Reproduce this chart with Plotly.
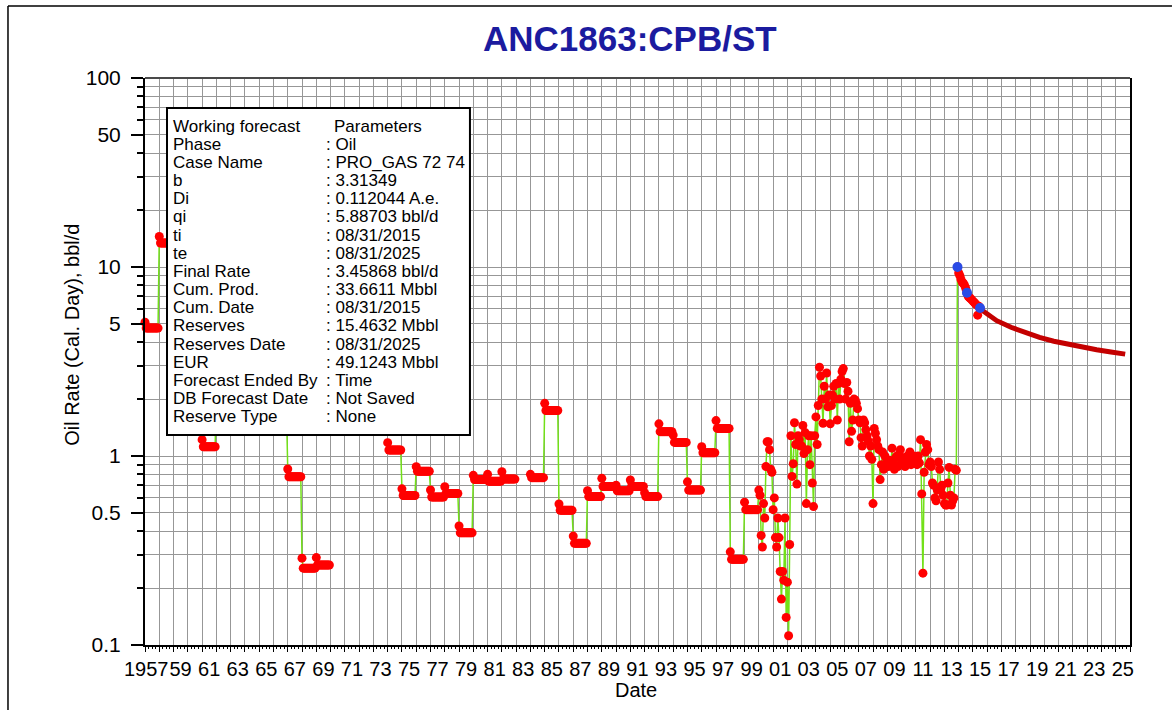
import plotly.graph_objects as go

# ---------------------------------------------------------------------------
# Production history, oil rate on calendar-day basis (bbl/d)
# Annual allocations: each year is plotted as 12 monthly points; the first
# month of the year carries a slightly higher rate than the remaining months.
# ---------------------------------------------------------------------------
early_years = [1957, 1958, 1959, 1960, 1961, 1962, 1963, 1964, 1965, 1966, 1967, 1968, 1969]
early_first = [5.10, 14.5, 7.40, 3.20, 1.22, 2.30, 2.10, 2.00, 1.90, 1.80, 0.853, 0.288, 0.290]
early_level = [4.75, 13.4, 7.00, 3.00, 1.12, 2.20, 2.00, 1.90, 1.80, 1.70, 0.777, 0.255, 0.265]

mid_years = [1974, 1975, 1976, 1977, 1978, 1979, 1980, 1981, 1982]
mid_first = [1.176, 0.670, 0.878, 0.661, 0.688, 0.426, 0.790, 0.800, 0.825]
mid_level = [1.076, 0.618, 0.830, 0.607, 0.633, 0.392, 0.750, 0.735, 0.755]

late_years = [1984, 1985, 1986, 1987, 1988, 1989, 1990, 1991,
              1992, 1993, 1994, 1995, 1996, 1997, 1998, 1999]
late_first = [0.800, 1.90, 0.557, 0.377, 0.655, 0.762, 0.700, 0.746,
              0.640, 1.48, 1.29, 0.730, 1.12, 1.54, 0.311, 0.570]
late_level = [0.768, 1.74, 0.516, 0.345, 0.610, 0.690, 0.655, 0.690,
              0.610, 1.345, 1.18, 0.660, 1.04, 1.40, 0.284, 0.520]

# Monthly rates, Jan..Dec
m2000 = [0.66, 0.62, 0.38, 0.33, 0.56, 0.47, 0.88, 1.19, 1.19, 1.08, 0.85, 0.82]
m2001 = [0.52, 0.60, 0.37, 0.33, 0.47, 0.37, 0.245, 0.175, 0.245, 0.22, 0.47, 0.14]
m2002 = [0.215, 0.112, 0.34, 1.28, 0.78, 0.91, 1.50, 1.15, 0.71, 1.28, 1.22, 1.13]
m2003 = [1.13, 1.45, 1.03, 1.33, 0.56, 1.08, 1.28, 0.90, 1.28, 0.72, 0.54, 1.28]
m2004 = [1.61, 1.15, 1.85, 2.95, 2.65, 2.00, 1.49, 2.34, 2.00, 2.75, 1.82, 2.10]
m2005 = [1.48, 1.85, 2.10, 2.34, 2.00, 2.42, 1.55, 2.42, 2.00, 2.55, 2.80, 2.90]
m2006 = [2.42, 2.00, 2.45, 2.20, 1.19, 1.90, 1.35, 1.55, 2.00, 1.98, 1.90, 1.78]
m2007 = [1.55, 1.50, 1.25, 1.13, 1.55, 1.50, 1.38, 1.28, 1.20, 1.00, 1.13, 0.96]
m2008 = [0.56, 1.40, 1.32, 1.22, 1.13, 1.08, 0.75, 0.90, 1.05, 0.85, 1.00, 0.90]
m2009 = [0.95, 0.88, 0.95, 0.90, 1.10, 0.92, 0.85, 0.98, 1.00, 0.88, 1.02, 1.08]
m2010 = [0.93, 0.98, 0.95, 0.88, 0.90, 1.00, 0.95, 1.05, 0.90, 0.92, 1.00, 0.95]
m2011 = [0.95, 0.90, 1.00, 0.92, 1.22, 0.63, 0.24, 0.82, 1.05, 1.15, 1.08, 0.90]
m2012 = [0.93, 0.88, 0.72, 0.70, 0.60, 0.58, 0.66, 0.93, 0.85, 0.67, 0.70, 0.62]
m2013 = [0.56, 0.55, 0.55, 0.72, 0.87, 0.62, 0.55, 0.58, 0.60, 0.85, 0.84]  # Jan..Nov
monthly_years = [2000, 2001, 2002, 2003, 2004, 2005, 2006, 2007,
                 2008, 2009, 2010, 2011, 2012, 2013]
monthly_rates = [m2000, m2001, m2002, m2003, m2004, m2005, m2006, m2007,
                 m2008, m2009, m2010, m2011, m2012, m2013]

# Recompletion response, Dec 2013 .. Jul 2015
recent_dates = ["2013-12-01", "2014-01-01", "2014-02-01", "2014-03-01", "2014-04-01",
                "2014-05-01", "2014-06-01", "2014-07-01", "2014-08-01", "2014-09-01",
                "2014-10-01", "2014-11-01", "2014-12-01", "2015-01-01", "2015-02-01",
                "2015-03-01", "2015-04-01", "2015-05-01", "2015-06-01", "2015-07-01"]
recent_rates = [10.0, 9.3, 9.0, 8.6, 8.3, 8.2, 8.0, 7.7, 7.3, 7.0,
                6.9, 6.8, 6.7, 6.6, 6.5, 6.4, 6.3, 5.56, 6.2, 6.07]

# Points picked for the decline fit
fit_dates = ["2013-12-01", "2014-08-01", "2015-07-01"]
fit_rates = [10.0, 7.3, 6.07]

# Working forecast (hyperbolic), rates at yearly anniversaries of ti
fc_dates = ["2015-08-31", "2016-08-31", "2017-08-31", "2018-08-31", "2019-08-31", "2020-08-31",
            "2021-08-31", "2022-08-31", "2023-08-31", "2024-08-31", "2025-08-31"]
fc_rates = [5.88703, 5.20, 4.80, 4.48, 4.24, 4.05, 3.90, 3.77, 3.65, 3.55, 3.45868]

# Axis ticks
y_tickvals = [0.1, 0.5, 1, 5, 10, 50, 100]
y_ticktext = ["0.1", "0.5", "1", "5", "10", "50", "100"]
label_years = list(range(1957, 2026, 2))
x_ticktext = ["1957"] + ["%02d" % (y % 100) for y in label_years[1:]]
# label anchors sit mid-year; the four-digit first label is nudged left
x_label_pos = ["1957-02-01"] + ["%d-07-01" % y for y in label_years[1:]]

# Parameter box contents
param_rows = [
    ("Working forecast", "Parameters"),
    ("Phase", ": Oil"),
    ("Case Name", ": PRO_GAS 72 74"),
    ("b", ": 3.31349"),
    ("Di", ": 0.112044 A.e."),
    ("qi", ": 5.88703 bbl/d"),
    ("ti", ": 08/31/2015"),
    ("te", ": 08/31/2025"),
    ("Final Rate", ": 3.45868 bbl/d"),
    ("Cum. Prod.", ": 33.6611 Mbbl"),
    ("Cum. Date", ": 08/31/2015"),
    ("Reserves", ": 15.4632 Mbbl"),
    ("Reserves Date", ": 08/31/2025"),
    ("EUR", ": 49.1243 Mbbl"),
    ("Forecast Ended By", ": Time"),
    ("DB Forecast Date", ": Not Saved"),
    ("Reserve Type", ": None"),
]


# ---------------------------------------------------------------------------
def expand_annual(years, first, level):
    xs, ys = [], []
    for yr, f, lv in zip(years, first, level):
        for m in range(1, 13):
            xs.append("%d-%02d-01" % (yr, m))
            ys.append(f if m == 1 else lv)
    return xs, ys


hist_x, hist_y = [], []
for block in [(early_years, early_first, early_level),
              (mid_years, mid_first, mid_level)]:
    bx, by = expand_annual(*block)
    hist_x += bx + [None]
    hist_y += by + [None]
bx, by = expand_annual(late_years, late_first, late_level)
hist_x += bx
hist_y += by
for yr, rates in zip(monthly_years, monthly_rates):
    for i, r in enumerate(rates):
        hist_x.append("%d-%02d-01" % (yr, i + 1))
        hist_y.append(r)
hist_x += recent_dates
hist_y += recent_rates

FONT = "Liberation Sans, Arial, sans-serif"
GRID = "#979797"

fig = go.Figure()

fig.add_trace(go.Scatter(
    x=fc_dates, y=fc_rates, mode="lines",
    line=dict(color="#c40000", width=5), cliponaxis=False,
    showlegend=False, hoverinfo="skip"))

fig.add_trace(go.Scatter(
    x=hist_x, y=hist_y, mode="lines+markers", connectgaps=False,
    line=dict(color="#72e018", width=1.5),
    marker=dict(color="#ff0000", size=9, line=dict(width=0)),
    cliponaxis=False, showlegend=False))

fig.add_trace(go.Scatter(
    x=fit_dates, y=fit_rates, mode="markers",
    marker=dict(color="#2a4be6", size=10, line=dict(width=0)),
    cliponaxis=False, showlegend=False))

# Carrier for the labelled date axis
fig.add_trace(go.Scatter(x=[], y=[], xaxis="x2", yaxis="y",
                         showlegend=False, hoverinfo="skip"))

x_range = ["1957-01-01", "2026-01-01"]
minor_y = [m * 10 ** d for d in (-1, 0, 1) for m in (2, 3, 4, 6, 7, 8, 9)]

fig.update_layout(
    width=1172, height=710, autosize=False,
    margin=dict(l=145, r=42, t=78, b=65, pad=0),
    paper_bgcolor="white", plot_bgcolor="white",
    font=dict(family=FONT, color="black"),
    xaxis=dict(
        type="date", range=x_range, automargin=False,
        tickmode="array",
        tickvals=["%d-01-01" % y for y in range(1957, 2027)],
        showticklabels=False,
        ticks="outside", ticklen=5, tickwidth=1, tickcolor="black",
        showgrid=True, gridcolor=GRID, gridwidth=1,
        showline=True, linecolor="black", linewidth=2, mirror=False,
        zeroline=False,
        minor=dict(dtick="M3", tick0="1957-01-01", ticks="outside",
                   ticklen=2, tickcolor="black", showgrid=False),
    ),
    xaxis2=dict(
        type="date", range=x_range, overlaying="x", anchor="y", side="bottom",
        automargin=False,
        tickmode="array",
        tickvals=x_label_pos,
        ticktext=x_ticktext, tickangle=0,
        ticks="", showgrid=False, showline=False, zeroline=False,
        tickfont=dict(family=FONT, size=20, color="black"),
        ticklabelstandoff=10,
    ),
    yaxis=dict(
        type="log", range=[-1, 2], automargin=False,
        tickmode="array", tickvals=y_tickvals, ticktext=y_ticktext,
        tickfont=dict(family=FONT, size=21, color="black"),
        ticks="outside", ticklen=12, tickwidth=1.5, tickcolor="black",
        showgrid=True, gridcolor=GRID, gridwidth=1,
        showline=True, linecolor="black", linewidth=2, mirror=True,
        zeroline=False, ticklabelstandoff=6,
        minor=dict(tickmode="array", tickvals=minor_y, ticks="outside",
                   ticklen=6, tickcolor="black", showgrid=True,
                   gridcolor=GRID, gridwidth=1),
    ),
)

shapes = [
    # top edge of the plotting area
    dict(type="line", xref="paper", yref="paper", x0=0, x1=1, y0=1, y1=1,
         line=dict(color="#4a4a4a", width=2), layer="above"),
    # outer frame
    dict(type="line", xref="paper", yref="paper", x0=-0.1391, x1=-0.1391,
         y0=-0.1146, y1=1.127, line=dict(color="black", width=1.5)),
    dict(type="line", xref="paper", yref="paper", x0=-0.1391, x1=1.0426,
         y0=1.127, y1=1.127, line=dict(color="black", width=1.5)),
    # parameter box
    dict(type="rect", xref="paper", yref="paper", x0=0.02234, x1=0.3299,
         y0=0.3704, y1=0.9471, fillcolor="white",
         line=dict(color="black", width=2), layer="above"),
]

annotations = [
    dict(text="<b>ANC1863:CPB/ST</b>", xref="paper", yref="paper",
         x=0.4924, y=1.0705, xanchor="center", yanchor="middle", showarrow=False,
         font=dict(family=FONT, size=35, color="#1b1b9f")),
    dict(text="Oil Rate (Cal. Day), bbl/d", xref="paper", yref="paper",
         x=-0.0741, y=0.547, xanchor="center", yanchor="middle", textangle=-90,
         showarrow=False, font=dict(family=FONT, size=20, color="black")),
    dict(text="Date", xref="paper", yref="paper", x=0.4985, y=-0.0794,
         xanchor="center", yanchor="middle", showarrow=False,
         font=dict(family=FONT, size=20, color="black")),
]

plot_w, plot_h, plot_l, plot_b = 985.0, 567.0, 145.0, 645.0
for i, (left, right) in enumerate(param_rows):
    ypix = 126 + 18.17 * i
    yp = (plot_b - ypix) / plot_h
    annotations.append(dict(
        text=left, xref="paper", yref="paper", x=(172 - plot_l) / plot_w, y=yp,
        xanchor="left", yanchor="middle", showarrow=False, borderpad=0,
        font=dict(family=FONT, size=17, color="black")))
    xr = 333 if i == 0 else 325
    annotations.append(dict(
        text=right, xref="paper", yref="paper", x=(xr - plot_l) / plot_w, y=yp,
        xanchor="left", yanchor="middle", showarrow=False, borderpad=0,
        font=dict(family=FONT, size=17, color="black")))

fig.update_layout(shapes=shapes, annotations=annotations)

fig.write_html("out.html")
